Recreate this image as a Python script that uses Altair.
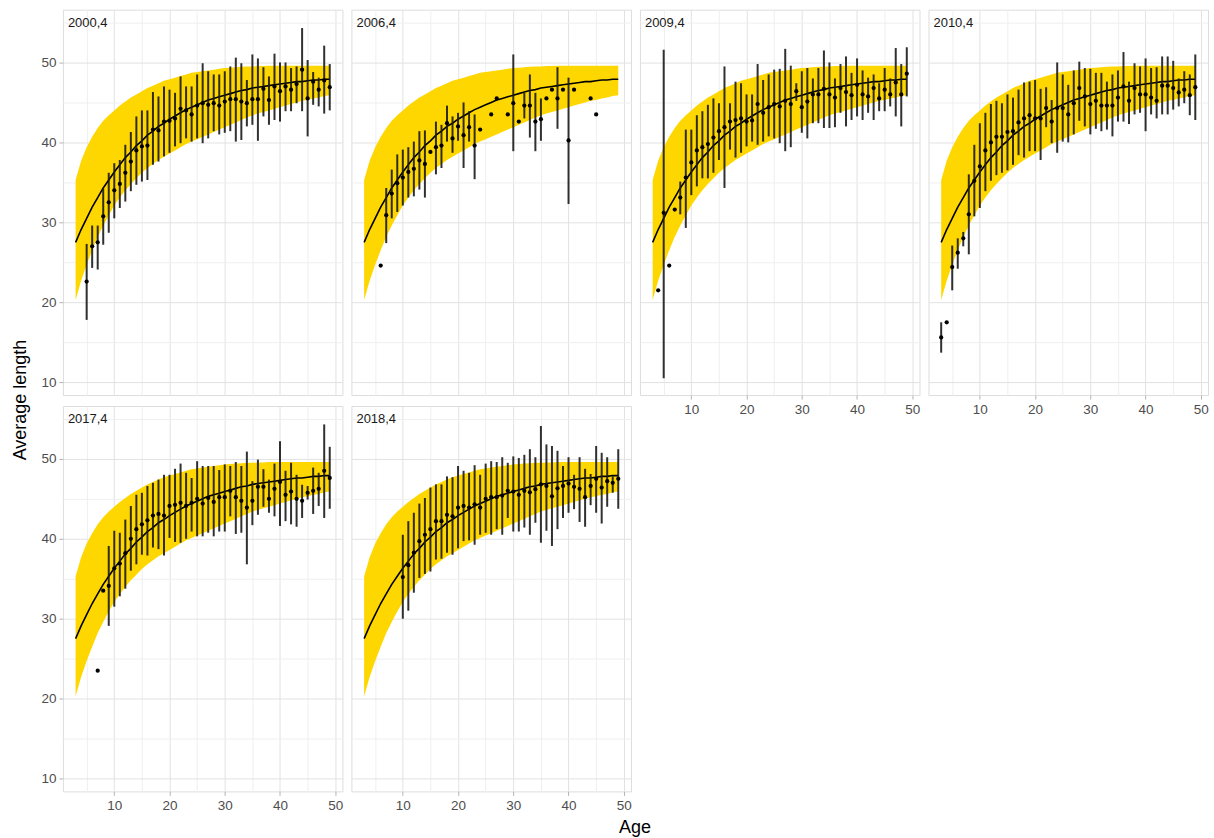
import altair as alt
import pandas as pd

FONT = "Liberation Sans"

# ---- fitted growth curve and band (same in every panel), read at integer ages ----
CURVE_AGE = [3, 4, 5, 6, 7, 8, 9, 10, 11, 12, 13, 14, 15, 16, 17, 18, 19, 20, 21, 22, 23, 24, 25, 26,
             27, 28, 29, 30, 31, 32, 33, 34, 35, 36, 37, 38, 39, 40, 41, 42, 43, 44, 45, 46, 47, 48, 49]
CURVE_FIT = [27.5, 29.1, 30.5, 31.9, 33.1, 34.3, 35.3, 36.3, 37.2, 38.1, 38.8, 39.6, 40.2, 40.9, 41.4,
             42.0, 42.4, 42.9, 43.3, 43.7, 44.1, 44.4, 44.7, 45.0, 45.3, 45.5, 45.7, 45.9, 46.1, 46.3,
             46.5, 46.6, 46.8, 46.9, 47.0, 47.1, 47.2, 47.3, 47.4, 47.5, 47.6, 47.6, 47.7, 47.8, 47.8,
             47.9, 47.9]
BAND_LOW = [20.3, 22.7, 24.7, 26.5, 28.2, 29.6, 30.9, 32.1, 33.1, 34.0, 34.8, 35.5, 36.2, 36.8, 37.3,
            37.8, 38.2, 38.6, 39.0, 39.4, 39.8, 40.1, 40.4, 40.7, 41.0, 41.3, 41.6, 41.9, 42.2, 42.5,
            42.8, 43.1, 43.4, 43.6, 43.8, 44.0, 44.2, 44.4, 44.6, 44.8, 45.0, 45.2, 45.3, 45.5, 45.6,
            45.8, 45.9]
BAND_HIGH = [35.3, 37.7, 39.4, 40.7, 41.8, 42.7, 43.4, 44.0, 44.6, 45.1, 45.6, 46.0, 46.4, 46.8, 47.1,
             47.4, 47.7, 47.9, 48.1, 48.3, 48.5, 48.7, 48.8, 48.9, 49.0, 49.1, 49.2, 49.3, 49.35, 49.4,
             49.45, 49.5, 49.5, 49.55, 49.55, 49.6, 49.6, 49.6, 49.6, 49.6, 49.6, 49.6, 49.6, 49.6,
             49.6, 49.6, 49.6]

# ---- observed mean length with interval, per panel (None = no interval drawn) ----
P2000_AGE = [5, 6, 7, 8, 9, 10, 11, 12, 13, 14, 15, 16, 17, 18, 19, 20, 21, 22, 23, 24, 25, 26, 27,
             28, 29, 30, 31, 32, 33, 34, 35, 36, 37, 38, 39, 40, 41, 42, 43, 44, 45, 46, 47, 48, 49]
P2000_MEAN = [22.6, 27.0, 27.5, 30.75, 32.5, 34.0, 34.8, 36.2, 37.6, 39.0, 39.5, 39.6, 41.6, 41.5, 42.6,
              42.7, 43.0, 44.2, 44.0, 43.5, 44.6, 44.9, 44.7, 44.9, 44.6, 45.1, 45.4, 45.4, 45.1, 44.9,
              45.4, 45.4, 46.7, 45.3, 47.0, 46.4, 47.0, 46.6, 47.3, 49.1, 45.5, 47.6, 46.6, 47.75, 46.9]
P2000_HI = [27.3, 29.6, 29.6, 34.2, 36.2, 37.4, 37.8, 39.7, 41.3, 43.25, 44.0, 44.0, 46.3, 45.75, 47.0,
            46.6, 46.2, 48.25, 47.0, 47.0, 48.5, 49.9, 48.9, 48.5, 48.5, 48.9, 49.5, 50.6, 49.9, 47.8,
            51.0, 50.5, 49.4, 48.25, 51.1, 50.0, 50.0, 49.3, 49.5, 54.3, 50.3, 48.8, 48.1, 52.1, 49.8]
P2000_LO = [17.8, 24.3, 24.1, 27.2, 28.7, 30.5, 31.8, 32.6, 33.9, 34.7, 35.1, 35.3, 37.2, 37.6, 38.25,
            38.7, 39.5, 39.9, 40.5, 40.1, 40.5, 39.9, 40.5, 41.4, 41.0, 41.2, 41.4, 40.1, 40.3, 42.0,
            42.2, 40.2, 43.25, 42.2, 42.8, 42.6, 43.9, 43.9, 44.9, 43.9, 40.75, 44.7, 44.5, 43.6, 44.0]

P2006_AGE = [6, 7, 8, 9, 10, 11, 12, 13, 14, 15, 16, 17, 18, 19, 20, 21, 22, 23, 24, 26, 27, 29, 30,
             31, 32, 33, 34, 35, 36, 37, 38, 39, 40, 41, 44, 45]
P2006_MEAN = [24.6, 30.9, 33.6, 34.9, 35.6, 36.3, 36.7, 37.75, 37.3, 38.8, 39.4, 39.6, 42.4, 40.5, 42.0,
              40.9, 41.9, 39.6, 41.6, 43.5, 45.5, 43.5, 44.9, 42.6, 44.6, 44.6, 42.6, 42.9, 45.5, 46.6,
              45.5, 46.6, 40.25, 46.6, 45.5, 43.5]
P2006_HI = [None, 34.3, 36.6, 38.5, 39.1, 39.4, 40.1, 41.4, 41.5, None, 42.6, 42.2, 44.6, 43.25, 43.7,
            45.0, 43.9, 43.5, None, None, None, None, 51.0, None, 46.2, 48.5, 46.2, 45.5, None, None,
            49.4, None, 48.1, None, None, None]
P2006_LO = [None, 27.4, 30.5, 31.3, 32.1, 33.1, 33.25, 34.1, 33.1, None, 36.0, 36.8, 40.1, 38.7, 40.2,
            36.8, 40.1, 35.4, None, None, None, None, 38.9, None, 43.0, 40.6, 38.9, 40.2, None, None,
            41.7, None, 32.3, None, None, None]

P2009_AGE = [4, 5, 6, 7, 8, 9, 10, 11, 12, 13, 14, 15, 16, 17, 18, 19, 20, 21, 22, 23, 24, 25, 26, 27,
             28, 29, 30, 31, 32, 33, 34, 35, 36, 37, 38, 39, 40, 41, 42, 43, 44, 45, 46, 47, 48, 49]
P2009_MEAN = [21.5, 31.2, 24.6, 31.6, 33.1, 35.6, 37.5, 39.0, 39.4, 39.8, 40.6, 41.4, 41.9, 42.6, 42.8,
              43.0, 42.6, 42.75, 44.8, 43.7, 44.4, 44.8, 44.5, 45.2, 44.8, 46.4, 44.4, 45.1, 46.0, 46.0,
              46.7, 46.0, 45.6, 46.8, 46.3, 45.9, 47.2, 46.0, 45.75, 46.8, 45.5, 46.6, 46.0, 47.5, 46.0,
              48.6]
P2009_HI = [None, 51.6, None, None, 35.1, 41.6, 41.6, 43.4, 43.9, 44.7, 45.5, 44.9, 49.5, 44.9, 47.6,
            47.4, 46.0, 46.0, 49.8, 47.8, 48.5, 49.1, 49.2, 51.7, 49.6, 47.4, 48.9, 49.3, 48.0, 49.3,
            51.5, 50.0, 48.0, 49.8, 50.75, 48.7, 50.5, 49.0, 48.1, 48.5, 47.4, 49.3, 48.0, 51.8, 49.8,
            51.9]
P2009_LO = [None, 10.5, None, None, 31.0, 29.3, 33.4, 34.5, 35.5, 35.5, 36.2, 37.8, 34.3, 39.1, 38.1,
            38.7, 39.5, 40.1, 39.7, 40.1, 40.75, 40.5, 39.9, 38.9, 39.4, 45.2, 41.2, 40.5, 42.4, 42.4,
            41.8, 41.8, 41.9, 43.7, 42.0, 42.8, 43.25, 42.8, 43.7, 42.8, 43.9, 43.9, 44.5, 43.25, 42.0,
            45.75]

P2010_AGE = [3, 4, 5, 6, 7, 8, 9, 10, 11, 12, 13, 14, 15, 16, 17, 18, 19, 20, 21, 22, 23, 24, 25, 26,
             27, 28, 29, 30, 31, 32, 33, 34, 35, 36, 37, 38, 39, 40, 41, 42, 43, 44, 45, 46, 47, 48, 49]
P2010_MEAN = [15.6, 17.5, 24.4, 26.2, 28.0, 31.0, 35.2, 37.0, 39.0, 40.0, 40.7, 40.7, 41.3, 41.4, 42.5,
              43.0, 43.4, 43.0, 43.0, 44.3, 42.6, 44.3, 44.3, 43.5, 44.9, 46.8, 45.75, 44.8, 45.2, 44.6,
              44.6, 44.6, 45.6, 47.0, 45.2, 46.8, 46.0, 46.0, 45.6, 45.2, 47.1, 47.1, 46.8, 46.25, 46.6,
              45.9, 46.9]
P2010_HI = [17.5, None, 27.1, 28.0, 28.8, 36.0, 39.7, 42.4, 43.7, 44.8, 45.2, 44.9, 46.0, 45.6, 46.6,
            47.5, 47.6, 47.8, 46.7, 46.9, 45.3, 50.0, 48.5, 47.2, 49.0, 50.1, 49.3, 49.2, 48.7, 48.7,
            47.6, 48.5, 49.0, 51.3, 47.6, 49.9, 49.5, 50.5, 49.3, 49.4, 50.75, 50.75, 50.2, 48.0, 48.9,
            48.5, 51.0]
P2010_LO = [13.7, None, 21.5, 24.2, 27.0, 26.0, 30.75, 31.8, 33.9, 35.2, 35.9, 36.2, 36.5, 37.2, 38.4,
            38.1, 38.9, 38.9, 37.8, 41.9, 39.9, 38.7, 40.1, 40.0, 41.0, 42.7, 42.0, 41.0, 41.7, 41.4,
            41.6, 40.75, 42.6, 42.6, 42.3, 43.5, 43.7, 41.4, 43.5, 43.0, 43.5, 43.5, 44.1, 44.5, 44.9,
            43.4, 42.8]

P2017_AGE = [7, 8, 9, 10, 11, 12, 13, 14, 15, 16, 17, 18, 19, 20, 21, 22, 23, 24, 25, 26, 27, 28, 29,
             30, 31, 32, 33, 34, 35, 36, 37, 38, 39, 40, 41, 42, 43, 44, 45, 46, 47, 48, 49]
P2017_MEAN = [23.5, 33.5, 34.1, 36.3, 36.9, 38.2, 40.0, 41.2, 41.8, 42.3, 42.9, 43.1, 42.9, 44.1, 44.25,
              44.5, 44.1, 44.5, 45.0, 44.4, 45.1, 44.6, 45.2, 45.2, 46.0, 45.2, 44.75, 43.9, 44.75, 46.5,
              46.5, 45.0, 46.25, 47.1, 45.5, 45.9, 45.0, 44.75, 45.75, 46.0, 46.25, 48.5, 47.6]
P2017_HI = [None, None, 39.1, 41.0, 40.75, 42.4, 44.1, 45.5, 45.75, 46.6, 47.0, 47.4, 48.0, 48.0, 48.75,
            49.4, 48.25, 47.6, 49.7, 49.1, 49.1, 49.1, 48.6, 49.3, 49.1, 49.6, 49.1, 50.9, 47.2, 49.9,
            48.7, 47.4, 49.4, 52.2, 48.5, 49.5, 48.0, 46.75, 46.6, 48.9, 48.25, 54.3, 51.5]
P2017_LO = [None, None, 29.1, 31.5, 32.8, 33.75, 36.0, 36.8, 38.0, 37.9, 38.9, 38.7, 37.9, 40.1, 39.6,
            39.5, 40.0, 40.9, 40.3, 40.3, 40.75, 40.3, 40.9, 40.9, 42.8, 40.6, 40.75, 36.8, 41.7, 43.0,
            44.0, 43.25, 42.8, 41.6, 42.2, 41.8, 41.5, 42.6, 44.9, 43.1, 44.1, 42.6, 43.75]

P2018_AGE = [10, 11, 12, 13, 14, 15, 16, 17, 18, 19, 20, 21, 22, 23, 24, 25, 26, 27, 28, 29, 30, 31,
             32, 33, 34, 35, 36, 37, 38, 39, 40, 41, 42, 43, 44, 45, 46, 47, 48, 49]
P2018_MEAN = [35.2, 36.7, 38.25, 39.7, 40.5, 41.2, 42.2, 42.2, 43.0, 42.8, 43.9, 44.1, 43.9, 44.3, 43.9,
              45.0, 45.2, 45.2, 45.4, 46.0, 45.9, 45.5, 46.0, 45.8, 46.2, 46.8, 46.6, 45.3, 46.3, 46.6,
              46.9, 46.5, 46.25, 45.2, 46.6, 47.5, 46.4, 47.2, 47.0, 47.5]
P2018_HI = [40.5, 42.2, 43.25, 44.4, 45.1, 46.4, 46.8, 46.8, 47.8, 47.7, 49.1, 48.5, 48.25, 49.2, 48.0,
            49.4, 49.7, 49.6, 50.2, 49.5, 50.3, 50.1, 50.5, 51.2, 50.2, 54.1, 51.8, 51.6, 51.0, 49.1,
            50.2, 48.0, 50.2, 48.75, 48.1, 51.6, 50.75, 50.2, 47.8, 51.2]
P2018_LO = [30.0, 31.0, 33.25, 35.1, 35.6, 35.9, 37.4, 37.5, 38.25, 38.0, 38.8, 39.7, 39.8, 39.25, 40.5,
            40.75, 40.5, 41.2, 40.5, 42.6, 40.9, 40.9, 41.4, 40.5, 42.0, 39.5, 41.0, 39.1, 41.2, 42.6,
            43.25, 43.7, 42.1, 41.5, 44.2, 43.25, 41.9, 44.0, 45.75, 43.75]

X_MAJOR = [10, 20, 30, 40, 50]
X_MINOR = [5, 15, 25, 35, 45]
Y_MAJOR = [10, 20, 30, 40, 50]
Y_MINOR = [15, 25, 35, 45, 55]

PANEL_W = 280
PANEL_H = 386

curve_df = pd.DataFrame({"age": CURVE_AGE, "fit": CURVE_FIT, "low": BAND_LOW, "high": BAND_HIGH})

XS = alt.Scale(domain=[0.7, 51.3], nice=False, zero=False)
YS = alt.Scale(domain=[8.4, 56.6], nice=False, zero=False)


def grid_axis(values, orient, color, width):
    return alt.Axis(values=values, orient=orient, grid=True, gridColor=color, gridWidth=width,
                    labels=False, ticks=False, domain=False, title=None)


def label_axis(values, orient):
    return alt.Axis(values=values, orient=orient, grid=False, labels=True, ticks=True, domain=False,
                    title=None, labelFont=FONT, labelFontSize=13.5, labelColor="#4d4d4d",
                    tickColor="#b3b3b3", tickSize=4, tickWidth=1, labelPadding=3)


def make_panel(label, ages, means, lo, hi, show_x, show_y):
    obs = pd.DataFrame({"age": ages, "mean": means, "lo": lo, "hi": hi})
    bars = obs.dropna(subset=["lo", "hi"])

    band = alt.Chart(curve_df).mark_area(color="#FFD700", opacity=1).encode(
        x=alt.X("age:Q", scale=XS, axis=grid_axis(X_MINOR, "bottom", "#efefef", 1)),
        y=alt.Y("low:Q", scale=YS, axis=grid_axis(Y_MINOR, "left", "#efefef", 1)),
        y2="high:Q",
    )
    line = alt.Chart(curve_df).mark_line(color="black", strokeWidth=1.6).encode(
        x=alt.X("age:Q", scale=XS, axis=grid_axis(X_MAJOR, "bottom", "#e2e2e2", 1)),
        y=alt.Y("fit:Q", scale=YS, axis=grid_axis(Y_MAJOR, "left", "#e2e2e2", 1)),
    )
    rules = alt.Chart(bars).mark_rule(color="#1a1a1a", strokeWidth=2, opacity=0.9).encode(
        x=alt.X("age:Q", scale=XS, axis=None),
        y=alt.Y("lo:Q", scale=YS, axis=None),
        y2="hi:Q",
    )
    pts = alt.Chart(obs).mark_circle(color="black", size=18, opacity=1).encode(
        x=alt.X("age:Q", scale=XS, axis=label_axis(X_MAJOR, "bottom") if show_x else None),
        y=alt.Y("mean:Q", scale=YS, axis=label_axis(Y_MAJOR, "left") if show_y else None),
    )
    txt = alt.Chart(pd.DataFrame({"t": [label]})).mark_text(
        align="left", baseline="alphabetic", font=FONT, fontSize=13, color="#1a1a1a"
    ).encode(text="t:N", x=alt.value(5), y=alt.value(17))

    return alt.layer(band, line, rules, pts, txt).resolve_axis(x="independent", y="independent").properties(
        width=PANEL_W, height=PANEL_H
    )


grid = alt.concat(
    make_panel("2000,4", P2000_AGE, P2000_MEAN, P2000_LO, P2000_HI, False, True),
    make_panel("2006,4", P2006_AGE, P2006_MEAN, P2006_LO, P2006_HI, False, False),
    make_panel("2009,4", P2009_AGE, P2009_MEAN, P2009_LO, P2009_HI, True, False),
    make_panel("2010,4", P2010_AGE, P2010_MEAN, P2010_LO, P2010_HI, True, False),
    make_panel("2017,4", P2017_AGE, P2017_MEAN, P2017_LO, P2017_HI, True, True),
    make_panel("2018,4", P2018_AGE, P2018_MEAN, P2018_LO, P2018_HI, True, False),
    columns=4, spacing={"row": 11, "column": 9}, bounds="flush",
)

# shared axis titles, drawn in a narrow view to the left of the panel grid
ytitle = alt.Chart(pd.DataFrame({"t": ["Average length"]})).mark_text(
    angle=270, align="center", baseline="middle", font=FONT, fontSize=18, color="black"
).encode(text="t:N", x=alt.value(0), y=alt.value(391))
xtitle = alt.Chart(pd.DataFrame({"t": ["Age"]})).mark_text(
    align="center", baseline="alphabetic", font=FONT, fontSize=18, color="black"
).encode(text="t:N", x=alt.value(615), y=alt.value(825))
titles = alt.layer(ytitle, xtitle).properties(
    width=1, height=783, view=alt.ViewBackground(stroke="transparent")
)

chart = alt.hconcat(titles, grid, spacing=41, bounds="flush").properties(
    padding={"left": 11, "top": 8, "right": 5, "bottom": 2}
).configure_view(stroke="#c4c4c4", strokeWidth=1).configure(background="white")

chart.save("out.html", embed_options={"renderer": "svg", "actions": False})
